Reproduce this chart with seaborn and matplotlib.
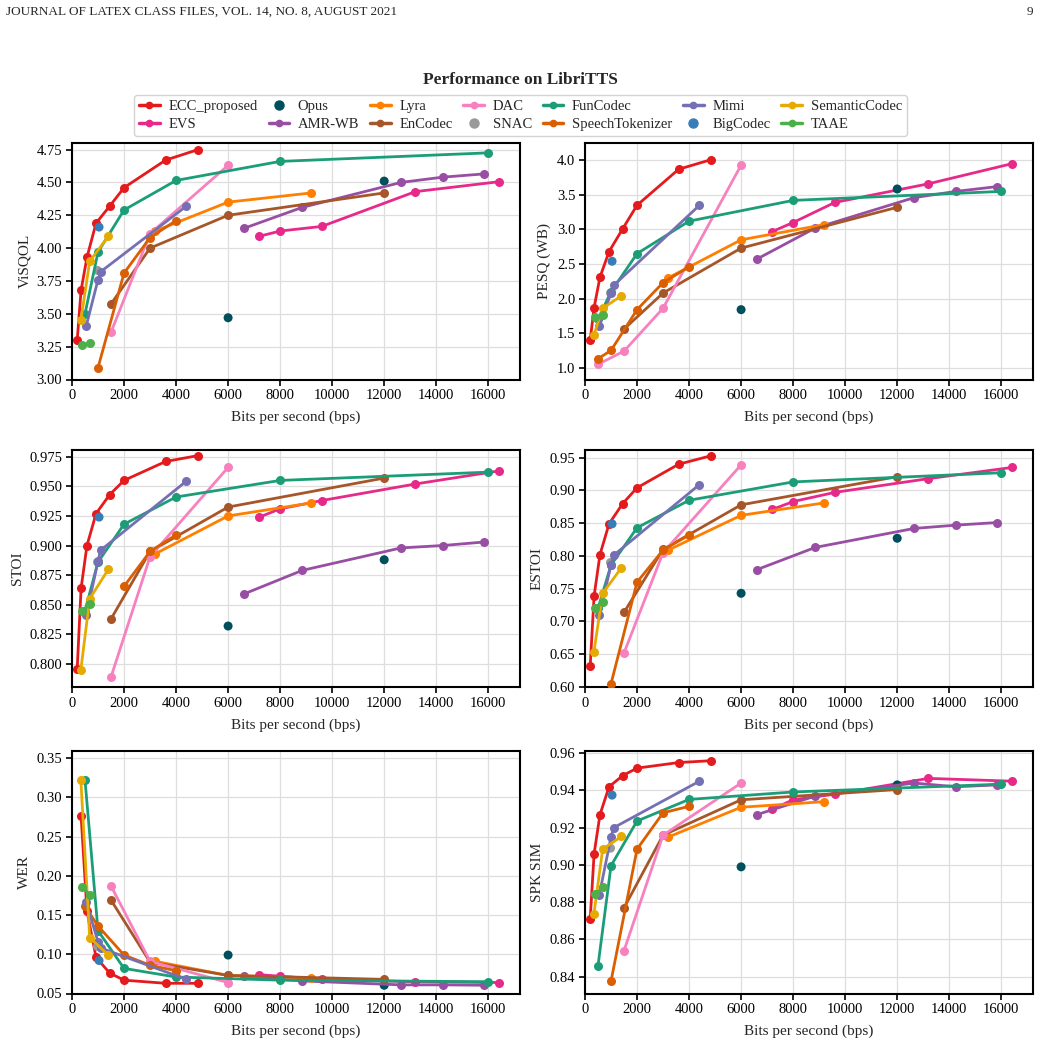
import matplotlib
matplotlib.use("Agg")
import matplotlib.pyplot as plt
from matplotlib.lines import Line2D
import seaborn as sns
import numpy as np
import pandas as pd

nan = np.nan

# bitrates (bps) and per-metric scores
ecc_bps = [200, 350, 575, 925, 1450, 2000, 3600, 4850]
ecc_visqol = [3.30, 3.68, 3.93, 4.19, 4.32, 4.46, 4.67, 4.75]
ecc_pesq = [1.40, 1.87, 2.31, 2.68, 3.01, 3.35, 3.87, 4.01]
ecc_stoi = [0.796, 0.864, 0.900, 0.927, 0.943, 0.955, 0.971, 0.976]
ecc_estoi = [0.632, 0.739, 0.802, 0.849, 0.880, 0.904, 0.940, 0.953]
ecc_wer = [nan, 0.276, 0.155, 0.096, 0.076, 0.067, 0.063, 0.063]
ecc_spk = [0.871, 0.906, 0.927, 0.942, 0.948, 0.952, 0.955, 0.956]

evs_bps = [7200, 8000, 9600, 13200, 16400]
evs_visqol = [4.09, 4.13, 4.165, 4.43, 4.505]
evs_pesq = [2.97, 3.10, 3.39, 3.66, 3.95]
evs_stoi = [0.924, 0.931, 0.938, 0.952, 0.963]
evs_estoi = [0.871, 0.883, 0.897, 0.918, 0.935]
evs_wer = [0.074, 0.072, 0.068, 0.065, 0.064]
evs_spk = [0.930, 0.935, 0.938, 0.9465, 0.945]

opus_bps = [6000, 12000]
opus_visqol = [3.47, 4.51]
opus_pesq = [1.84, 3.585]
opus_stoi = [0.832, 0.888]
opus_estoi = [0.743, 0.827]
opus_wer = [0.099, 0.0605]
opus_spk = [0.899, 0.943]

amrwb_bps = [6600, 8850, 12650, 14250, 15850]
amrwb_visqol = [4.15, 4.31, 4.50, 4.54, 4.565]
amrwb_pesq = [2.57, 3.02, 3.46, 3.55, 3.62]
amrwb_stoi = [0.859, 0.879, 0.898, 0.900, 0.903]
amrwb_estoi = [0.779, 0.813, 0.842, 0.847, 0.851]
amrwb_wer = [0.072, 0.066, 0.061, 0.061, 0.0605]
amrwb_spk = [0.927, 0.937, 0.944, 0.942, 0.943]

lyra_bps = [3200, 6000, 9200]
lyra_visqol = [4.13, 4.35, 4.42]
lyra_pesq = [2.30, 2.85, 3.07]
lyra_stoi = [0.893, 0.925, 0.936]
lyra_estoi = [0.809, 0.862, 0.881]
lyra_wer = [0.091, 0.073, 0.070]
lyra_spk = [0.915, 0.931, 0.934]

encodec_bps = [1500, 3000, 6000, 12000]
encodec_visqol = [3.575, 4.00, 4.25, 4.42]
encodec_pesq = [1.56, 2.08, 2.73, 3.32]
encodec_stoi = [0.838, 0.895, 0.9325, 0.957]
encodec_estoi = [0.714, 0.810, 0.878, 0.921]
encodec_wer = [0.169, 0.090, 0.073, 0.068]
encodec_spk = [0.877, 0.916, 0.935, 0.9405]

dac_bps = [500, 1500, 3000, 6000]
dac_visqol = [nan, 3.36, 4.11, 4.63]
dac_pesq = [1.05, 1.24, 1.86, 3.93]
dac_stoi = [nan, 0.789, 0.8905, 0.966]
dac_estoi = [nan, 0.652, 0.805, 0.939]
dac_wer = [nan, 0.187, 0.091, 0.064]
dac_spk = [nan, 0.854, 0.916, 0.944]

snac_bps = [980]
snac_visqol = [3.83]
snac_pesq = [2.08]
snac_stoi = [0.886]
snac_estoi = [0.79]
snac_wer = [0.11]
snac_spk = [0.909]

funcodec_bps = [500, 1000, 2000, 4000, 8000, 16000]
funcodec_visqol = [3.50, 3.97, 4.29, 4.515, 4.66, 4.725]
funcodec_pesq = [1.70, 2.10, 2.65, 3.12, 3.42, 3.55]
funcodec_stoi = [0.845, 0.886, 0.918, 0.941, 0.955, 0.962]
funcodec_estoi = [0.72, 0.786, 0.843, 0.885, 0.913, 0.927]
funcodec_wer = [0.322, 0.13, 0.082, 0.071, 0.067, 0.065]
funcodec_spk = [0.846, 0.8996, 0.9236, 0.9352, 0.9392, 0.9434]

st_bps = [500, 1000, 2000, 3000, 4000]
st_visqol = [nan, 3.09, 3.81, 4.08, 4.21]
st_pesq = [1.13, 1.25, 1.84, 2.23, 2.46]
st_stoi = [nan, nan, 0.8655, 0.895, 0.909]
st_estoi = [nan, 0.605, 0.760, 0.809, 0.832]
st_wer = [0.161, 0.136, 0.099, 0.086, 0.079]
st_spk = [nan, 0.8376, 0.9085, 0.928, 0.9315]

mimi_bps = [550, 1000, 1100, 4400]
mimi_visqol = [3.41, 3.76, 3.82, 4.32]
mimi_pesq = [1.61, 2.08, 2.19, 3.35]
mimi_stoi = [0.841, 0.887, 0.896, 0.9545]
mimi_estoi = [0.71, 0.786, 0.801, 0.909]
mimi_wer = [0.166, 0.116, 0.108, 0.068]
mimi_spk = [0.884, 0.915, 0.920, 0.945]

bigcodec_bps = [1040]
bigcodec_visqol = [4.16]
bigcodec_pesq = [2.54]
bigcodec_stoi = [0.924]
bigcodec_estoi = [0.849]
bigcodec_wer = [0.092]
bigcodec_spk = [0.9375]

semantic_bps = [340, 680, 1400]
semantic_visqol = [3.45, 3.90, 4.09]
semantic_pesq = [1.47, 1.86, 2.04]
semantic_stoi = [0.795, 0.855, 0.880]
semantic_estoi = [0.653, 0.743, 0.782]
semantic_wer = [0.322, 0.121, 0.099]
semantic_spk = [0.8735, 0.9085, 0.9153]

taae_bps = [400, 700]
taae_visqol = [3.26, 3.28]
taae_pesq = [1.73, 1.76]
taae_stoi = [0.845, 0.851]
taae_estoi = [0.72, 0.730]
taae_wer = [0.186, 0.175]
taae_spk = [0.8845, 0.888]

codec_names = ["ECC_proposed", "EVS", "Opus", "AMR-WB", "Lyra", "EnCodec", "DAC",
               "SNAC", "FunCodec", "SpeechTokenizer", "Mimi", "BigCodec",
               "SemanticCodec", "TAAE"]
colors = ["#e41a1c", "#e7298a", "#004f5c", "#984ea3", "#ff7f00", "#a65628", "#f781bf",
          "#999999", "#1b9e77", "#d95f02", "#7570b3", "#377eb8", "#e6ab02", "#4daf4a"]
single_point = {"Opus", "SNAC", "BigCodec"}

codec_rows = [
    (ecc_bps, ecc_visqol, ecc_pesq, ecc_stoi, ecc_estoi, ecc_wer, ecc_spk),
    (evs_bps, evs_visqol, evs_pesq, evs_stoi, evs_estoi, evs_wer, evs_spk),
    (opus_bps, opus_visqol, opus_pesq, opus_stoi, opus_estoi, opus_wer, opus_spk),
    (amrwb_bps, amrwb_visqol, amrwb_pesq, amrwb_stoi, amrwb_estoi, amrwb_wer, amrwb_spk),
    (lyra_bps, lyra_visqol, lyra_pesq, lyra_stoi, lyra_estoi, lyra_wer, lyra_spk),
    (encodec_bps, encodec_visqol, encodec_pesq, encodec_stoi, encodec_estoi, encodec_wer, encodec_spk),
    (dac_bps, dac_visqol, dac_pesq, dac_stoi, dac_estoi, dac_wer, dac_spk),
    (snac_bps, snac_visqol, snac_pesq, snac_stoi, snac_estoi, snac_wer, snac_spk),
    (funcodec_bps, funcodec_visqol, funcodec_pesq, funcodec_stoi, funcodec_estoi, funcodec_wer, funcodec_spk),
    (st_bps, st_visqol, st_pesq, st_stoi, st_estoi, st_wer, st_spk),
    (mimi_bps, mimi_visqol, mimi_pesq, mimi_stoi, mimi_estoi, mimi_wer, mimi_spk),
    (bigcodec_bps, bigcodec_visqol, bigcodec_pesq, bigcodec_stoi, bigcodec_estoi, bigcodec_wer, bigcodec_spk),
    (semantic_bps, semantic_visqol, semantic_pesq, semantic_stoi, semantic_estoi, semantic_wer, semantic_spk),
    (taae_bps, taae_visqol, taae_pesq, taae_stoi, taae_estoi, taae_wer, taae_spk),
]

metrics = ["visqol", "pesq", "stoi", "estoi", "wer", "spk"]
ylabels = ["ViSQOL", "PESQ (WB)", "STOI", "ESTOI", "WER", "SPK SIM"]
ylims = [(3.0, 4.80), (0.83, 4.25), (0.7805, 0.9807), (0.60, 0.9617), (0.05, 0.359), (0.831, 0.9612)]
yticks = [np.arange(3.0, 4.76, 0.25), np.arange(1.0, 4.01, 0.5), np.arange(0.800, 0.976, 0.025),
          np.arange(0.60, 0.951, 0.05), np.arange(0.05, 0.351, 0.05), np.arange(0.84, 0.961, 0.02)]
ytick_fmt = ["{:.2f}", "{:.1f}", "{:.3f}", "{:.2f}", "{:.2f}", "{:.2f}"]

records = []
for name, row in zip(codec_names, codec_rows):
    bps = row[0]
    for m, vals in zip(metrics, row[1:]):
        for b, v in zip(bps, vals):
            records.append({"codec": name, "bps": b, "metric": m, "value": v})
df = pd.DataFrame(records).dropna()

sns.set_style("whitegrid")
plt.rcParams["font.family"] = ["Liberation Serif", "DejaVu Serif"]
plt.rcParams.update({
    "axes.edgecolor": "black", "axes.linewidth": 1.5,
    "grid.color": "#dedede", "grid.linewidth": 0.9,
    "xtick.bottom": True, "ytick.left": True,
    "xtick.major.size": 4, "ytick.major.size": 4,
    "xtick.major.width": 1.2, "ytick.major.width": 1.2,
    "xtick.color": "black", "ytick.color": "black",
})

fig = plt.figure(figsize=(10.41, 10.52), dpi=100)
W, H = 1041, 1052
cols = [(72, 520), (585, 1033)]
rows = [(143, 379.5), (450, 687), (751, 993.5)]
palette = dict(zip(codec_names, colors))

for i, m in enumerate(metrics):
    r, c = divmod(i, 2)
    x0, x1 = cols[c]
    y0, y1 = rows[r]
    ax = fig.add_axes([x0 / W, 1 - y1 / H, (x1 - x0) / W, (y1 - y0) / H])
    sub = df[df["metric"] == m]
    for name in codec_names:
        part = sub[sub["codec"] == name]
        if part.empty:
            continue
        if name in single_point:
            sns.scatterplot(data=part, x="bps", y="value", color=palette[name], s=42,
                            edgecolor="none", ax=ax, zorder=3)
        else:
            sns.lineplot(data=part, x="bps", y="value", color=palette[name], marker="o",
                         markersize=6.5, markeredgewidth=0, linewidth=2.0, ax=ax, zorder=3)
    ax.set_xlim(0, 17220)
    ax.set_xticks(np.arange(0, 16001, 2000))
    ax.set_ylim(*ylims[i])
    ax.set_yticks(yticks[i])
    ax.set_yticklabels([ytick_fmt[i].format(t) for t in yticks[i]])
    ax.tick_params(labelsize=10.5, pad=3)
    ax.set_xlabel("Bits per second (bps)", fontsize=11, labelpad=6)
    ax.set_ylabel(ylabels[i], fontsize=11, labelpad=4)
    for s in ax.spines.values():
        s.set_color("black")
        s.set_linewidth(1.5)

handles = []
for name, col in zip(codec_names, colors):
    if name in single_point:
        h = Line2D([], [], color=col, marker="o", linestyle="none", markersize=6.5)
    else:
        h = Line2D([], [], color=col, marker="o", linewidth=2.5, markersize=4.5)
    handles.append(h)

fig.legend(handles, codec_names, loc="upper center", bbox_to_anchor=(0.5, 1 - 95 / H),
           ncol=7, fontsize=10.5, frameon=True, edgecolor="#c8c8c8", fancybox=True,
           handlelength=1.4, handletextpad=0.6, columnspacing=0.75, labelspacing=0.3,
           borderpad=0.35, borderaxespad=0.0)

fig.text(0.5, 1 - 80 / H, "Performance on LibriTTS", ha="center", va="center",
         fontsize=12.5, fontweight="bold")
fig.text(6 / W, 1 - 12 / H, "JOURNAL OF LATEX CLASS FILES, VOL. 14, NO. 8, AUGUST 2021",
         ha="left", va="center", fontsize=9.5)
fig.text(1033 / W, 1 - 12 / H, "9", ha="right", va="center", fontsize=9.5)

fig.savefig("out.png", dpi=100)
